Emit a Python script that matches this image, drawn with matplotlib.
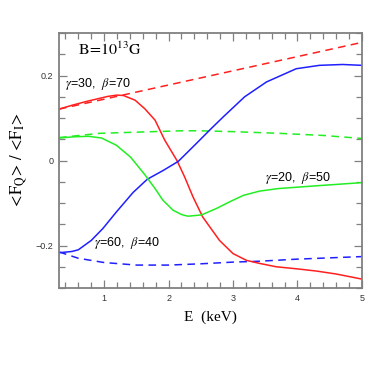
import matplotlib
matplotlib.use('Agg')
import matplotlib.pyplot as plt
from matplotlib.ticker import MultipleLocator

plt.rcParams['mathtext.fontset'] = 'stix'
plt.rcParams['font.family'] = 'Liberation Sans'

# red: gamma=30, beta=70
red_x = [0.3, 0.5, 0.75, 1.06, 1.2, 1.3, 1.48, 1.63, 1.79, 1.94, 2.13, 2.25, 2.38, 2.53,
         2.79, 3.0, 3.21, 3.41, 3.67, 4.0, 4.29, 4.6, 5.0]
red_y = [0.121, 0.13, 0.140, 0.151, 0.154, 0.153, 0.142, 0.122, 0.095, 0.048, 0.0, -0.039,
         -0.086, -0.133, -0.188, -0.219, -0.235, -0.242, -0.25, -0.255, -0.26, -0.267, -0.279]
red_dash_x = [0.3, 5.0]
red_dash_y = [0.121, 0.278]

# blue: gamma=60, beta=40
blue_x = [0.3, 0.5, 0.6, 0.8, 0.98, 1.19, 1.45, 1.67, 1.92, 2.15, 2.43, 2.66, 2.85, 3.18,
          3.52, 3.98, 4.34, 4.7, 5.0]
blue_y = [-0.217, -0.214, -0.21, -0.188, -0.16, -0.121, -0.075, -0.044, -0.023, -0.002,
          0.04, 0.075, 0.103, 0.15, 0.185, 0.216, 0.224, 0.226, 0.224]
blue_dash_x = [0.3, 0.6, 1.0, 1.5, 2.0, 2.5, 3.0, 3.4, 4.0, 5.0]
blue_dash_y = [-0.215, -0.23, -0.24, -0.246, -0.246, -0.243, -0.239, -0.237, -0.232, -0.226]

# green: gamma=20, beta=50
green_x = [0.3, 0.55, 0.76, 0.96, 1.19, 1.41, 1.63, 1.79, 1.91, 2.07, 2.2, 2.30, 2.51, 2.74,
           2.95, 3.16, 3.41, 3.7, 4.24, 5.0]
green_y = [0.053, 0.056, 0.057, 0.053, 0.036, 0.008, -0.033, -0.066, -0.093, -0.117, -0.127,
           -0.131, -0.128, -0.113, -0.097, -0.082, -0.072, -0.066, -0.06, -0.052]
green_dash_x = [0.3, 0.93, 1.55, 2.2, 2.48, 3.0, 3.72, 4.4, 5.0]
green_dash_y = [0.054, 0.064, 0.067, 0.07, 0.07, 0.068, 0.064, 0.059, 0.052]

fig = plt.figure(figsize=(3.82, 3.82), dpi=100)
ax = fig.add_axes([0.1545, 0.246, 0.793, 0.6675])

lw = 1.1
dash = (0, (5, 3.5))
red, blue, green = '#ff1f1f', '#1f1fff', '#22ee22'
ax.plot(red_dash_x, red_dash_y, color=red, lw=lw, linestyle=dash)
ax.plot(blue_dash_x, blue_dash_y, color=blue, lw=lw, linestyle=dash)
ax.plot(green_dash_x, green_dash_y, color=green, lw=lw, linestyle=dash)
ax.plot(red_x, red_y, color=red, lw=lw, solid_joinstyle='round')
ax.plot(blue_x, blue_y, color=blue, lw=lw, solid_joinstyle='round')
ax.plot(green_x, green_y, color=green, lw=lw, solid_joinstyle='round')

ax.set_xlim(0.3, 5)
ax.set_ylim(-0.3, 0.3)
ax.xaxis.set_major_locator(MultipleLocator(1))
ax.xaxis.set_minor_locator(MultipleLocator(0.2))
ax.yaxis.set_minor_locator(MultipleLocator(0.05))
ax.set_yticks([-0.2, 0, 0.2])
ax.set_yticklabels(['\u22120.2', '0', '0.2'])

gray = '#808080'
for s in ax.spines.values():
    s.set_color(gray)
    s.set_linewidth(1.3)
ax.tick_params(which='both', direction='in', top=True, right=True, color=gray,
               labelsize=6.5, labelcolor='#333333', width=0.9)
ax.tick_params(which='major', length=6, pad=4)
ax.tick_params(which='minor', length=4)

serif = 'Liberation Serif'
ax.set_xlabel('E  (keV)', family=serif, fontsize=11, labelpad=6)
ax.set_ylabel(r'$\mathrm{<\!F_Q\!>\,/\,<\!F_I\!>}$', fontsize=12, labelpad=4)

ax.text(0.6, 0.248, r'$\mathrm{B\!=\!10^{13}G}$', fontsize=11.5)
ax.text(0.39, 0.173, r'$\gamma$=30,  $\beta$=70', fontsize=9)
ax.text(3.49, -0.049, r'$\gamma$=20,  $\beta$=50', fontsize=9)
ax.text(0.85, -0.202, r'$\gamma$=60,  $\beta$=40', fontsize=9)

fig.savefig('out.png', dpi=100)
